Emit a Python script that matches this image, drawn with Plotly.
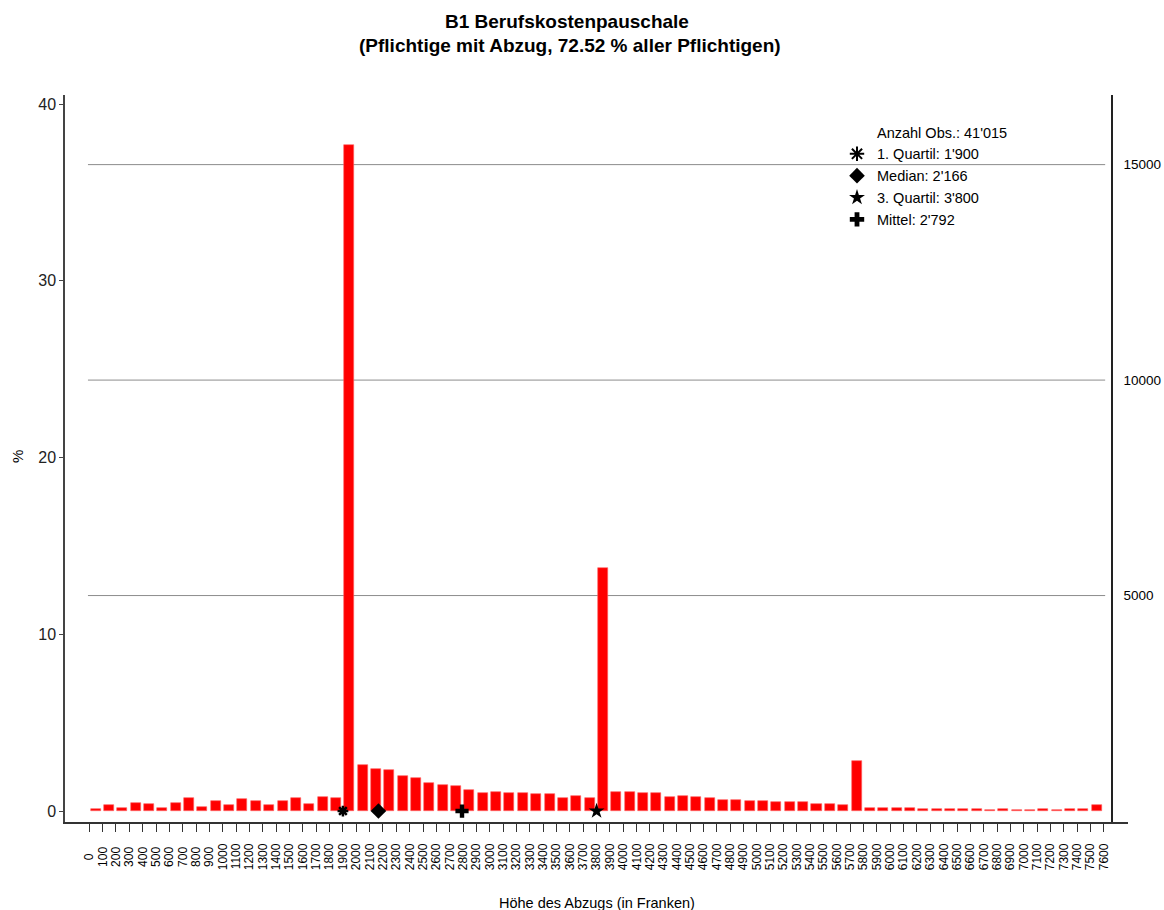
import plotly.graph_objects as go

# ---- data ----
bin_starts = list(range(0, 7600, 100))  # 76 bins of width 100
pct = [
    0.12, 0.32, 0.19, 0.45, 0.40, 0.19, 0.45, 0.72, 0.25, 0.58,
    0.32, 0.66, 0.58, 0.32, 0.58, 0.72, 0.40, 0.79, 0.72, 37.70,
    2.60, 2.39, 2.32, 2.00, 1.85, 1.58, 1.47, 1.40, 1.19, 1.00,
    1.06, 1.00, 1.00, 0.94, 0.94, 0.72, 0.85, 0.72, 13.75, 1.06,
    1.06, 1.00, 1.00, 0.77, 0.85, 0.77, 0.72, 0.64, 0.64, 0.58,
    0.58, 0.51, 0.51, 0.51, 0.38, 0.38, 0.32, 2.85, 0.17, 0.17,
    0.17, 0.17, 0.11, 0.11, 0.11, 0.11, 0.11, 0.06, 0.11, 0.06,
    0.06, 0.11, 0.06, 0.11, 0.11, 0.32,
]
tick_vals = list(range(0, 7700, 100))
tick_labels = [str(v) for v in tick_vals]
n_obs = 41015
stat_names = ["1. Quartil: 1'900", "Median: 2'166", "3. Quartil: 3'800", "Mittel: 2'792"]
stat_values = [1900, 2166, 3800, 2792]
stat_symbols = ["asterisk-open", "diamond", "star", "cross"]
stat_sizes = [9, 12, 12, 11]
right_ticks = [5000, 10000, 15000]
title_lines = ["B1 Berufskostenpauschale", "(Pflichtige mit Abzug, 72.52 % aller Pflichtigen)"]

FONT = "Liberation Sans, Arial, sans-serif"
PW, PH = 1063, 727  # plot area size in px


def px_x(px):
    return (px - 65) / PW


def px_y(py):
    return (822 - py) / PH


# rotated labels are centred in the reference: pad shorter labels at their end
maxlen = max(len(s) for s in tick_labels)
tick_text = [s + "\u00a0" * (maxlen - len(s)) for s in tick_labels]

fig = go.Figure()
fig.add_trace(go.Bar(
    x=bin_starts, y=pct, offset=10, width=75,
    marker=dict(color="#FF0000", line=dict(color="#FF6060", width=0.6)),
    showlegend=False, hoverinfo="skip",
))

# legend header entry (no symbol)
fig.add_trace(go.Scatter(
    x=[None], y=[None], mode="markers", name="Anzahl Obs.: 41'015",
    marker=dict(color="rgba(0,0,0,0)", size=1), legendgroup="g0",
))
for i, (nm, v, sym, sz) in enumerate(zip(stat_names, stat_values, stat_symbols, stat_sizes)):
    mk = dict(symbol=sym, size=sz, color="black")
    if sym == "asterisk-open":
        mk["line"] = dict(color="black", width=2.5)
    fig.add_trace(go.Scatter(
        x=[v], y=[0], mode="markers", name=nm, marker=mk,
        legendgroup=f"g{i+1}", cliponaxis=False, hoverinfo="skip",
    ))

# gridlines for the right axis
for t in right_ticks:
    fig.add_shape(type="line", xref="x", yref="y2", x0=-10, x1=7610, y0=t, y1=t,
                  line=dict(color="#8c8c8c", width=1), layer="below")

y_lo, y_hi = -0.62, 40.51
annotations = [
    dict(text="<b>%s</b>" % title_lines[0], xref="paper", yref="paper",
         x=px_x(567), y=px_y(21), xanchor="center", yanchor="middle",
         showarrow=False, font=dict(size=19, family=FONT, color="black")),
    dict(text="<b>%s</b>" % title_lines[1], xref="paper", yref="paper",
         x=px_x(570), y=px_y(45), xanchor="center", yanchor="middle",
         showarrow=False, font=dict(size=19, family=FONT, color="black")),
    dict(text="Höhe des Abzugs (in Franken)", xref="paper", yref="paper",
         x=px_x(597), y=px_y(903), xanchor="center", yanchor="middle",
         showarrow=False, font=dict(size=14.5, family=FONT)),
    dict(text="%", xref="paper", yref="paper", x=px_x(18), y=px_y(457),
         xanchor="center", yanchor="middle", textangle=-90, showarrow=False,
         font=dict(size=15, family=FONT)),
]

fig.update_layout(
    width=1164, height=910,
    margin=dict(l=65, r=36, t=95, b=88, autoexpand=False),
    paper_bgcolor="white", plot_bgcolor="white",
    font=dict(family=FONT, color="black"),
    bargap=0,
    xaxis=dict(
        range=[-182, 7781], tickmode="array", tickvals=tick_vals, ticktext=tick_text,
        tickangle=-90, tickfont=dict(size=12, family=FONT, color="black"),
        ticks="outside", ticklen=8, tickcolor="#333", tickwidth=1,
        ticklabelstandoff=7,
        showline=True, linecolor="#333", linewidth=1.5, showgrid=False, zeroline=False,
        automargin=False,
    ),
    yaxis=dict(
        range=[y_lo, y_hi], tickvals=[0, 10, 20, 30, 40],
        tickfont=dict(size=16, family=FONT, color="#222"),
        ticks="outside", ticklen=4, tickcolor="#444",
        showline=True, linecolor="#444", linewidth=1.5, showgrid=False, zeroline=False,
        automargin=False,
    ),
    yaxis2=dict(
        overlaying="y", anchor="free", position=px_x(1112), side="right",
        range=[y_lo * n_obs / 100, y_hi * n_obs / 100],
        tickmode="array", tickvals=right_ticks, ticktext=[str(t) for t in right_ticks],
        tickfont=dict(size=13.5, family=FONT, color="black"),
        ticks="outside", ticklen=8, tickcolor="rgba(0,0,0,0)",
        showline=True, linecolor="#222", linewidth=1.5, showgrid=False, zeroline=False,
        automargin=False,
    ),
    legend=dict(
        x=px_x(837), xanchor="left", y=px_y(116), yanchor="top",
        bgcolor="rgba(0,0,0,0)", borderwidth=0, font=dict(size=14.5, family=FONT),
        tracegroupgap=0, itemsizing="constant",
    ),
    annotations=annotations,
)
# dummy trace to activate y2
fig.add_trace(go.Scatter(x=[None], y=[None], yaxis="y2", showlegend=False))

fig.write_html(
    "out.html",
    config={"displayModeBar": False},
    post_script="document.body.style.margin='0';document.body.style.overflow='hidden';",
)
